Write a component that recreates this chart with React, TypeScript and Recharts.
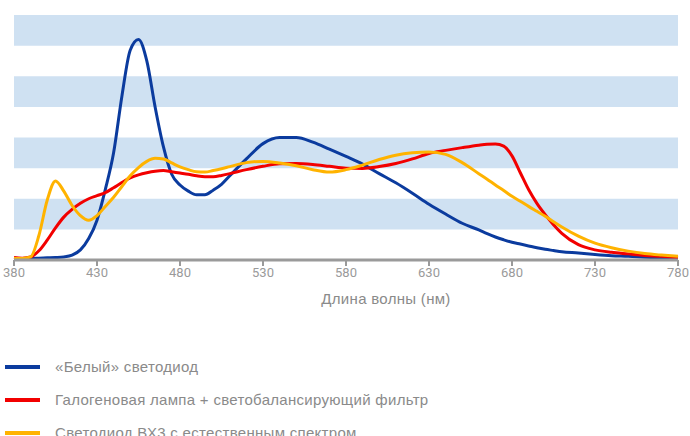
import React from "react";
import { LineChart, Line, XAxis, YAxis, ReferenceArea } from "recharts";

const wavelengths = [380, 385, 390, 395, 400, 405, 410, 415, 420, 425, 430, 435, 440, 445, 450, 455, 460, 465, 470, 475, 480, 485, 490, 495, 500, 505, 510, 520, 530, 540, 550, 560, 570, 580, 590, 600, 610, 620, 630, 640, 650, 660, 665, 670, 675, 680, 685, 690, 695, 700, 705, 710, 720, 730, 740, 750, 760, 770, 780];

const whiteLed = [0.05, 0.05, 0.05, 0.06, 0.07, 0.08, 0.1, 0.16, 0.33, 0.7, 1.3, 2.3, 3.5, 5.35, 6.85, 7.2, 6.5, 5.0, 3.7, 2.8, 2.45, 2.25, 2.13, 2.13, 2.28, 2.47, 2.75, 3.3, 3.8, 4.0, 4.0, 3.85, 3.62, 3.38, 3.13, 2.82, 2.52, 2.18, 1.82, 1.5, 1.2, 0.98, 0.86, 0.75, 0.66, 0.58, 0.52, 0.46, 0.4, 0.35, 0.31, 0.27, 0.23, 0.18, 0.14, 0.12, 0.09, 0.07, 0.05];

const halogen = [0.08, 0.06, 0.1, 0.3, 0.65, 1.05, 1.4, 1.65, 1.85, 2.0, 2.1, 2.2, 2.36, 2.53, 2.68, 2.78, 2.85, 2.9, 2.92, 2.88, 2.84, 2.8, 2.75, 2.72, 2.72, 2.76, 2.82, 2.95, 3.06, 3.14, 3.15, 3.12, 3.06, 3.0, 2.99, 3.05, 3.15, 3.3, 3.48, 3.58, 3.67, 3.75, 3.78, 3.79, 3.72, 3.4, 2.85, 2.3, 1.85, 1.48, 1.15, 0.87, 0.5, 0.33, 0.25, 0.2, 0.15, 0.12, 0.08];

const bx3 = [0.05, 0.05, 0.1, 0.8, 1.95, 2.58, 2.25, 1.78, 1.45, 1.3, 1.45, 1.75, 2.05, 2.4, 2.75, 3.02, 3.22, 3.32, 3.3, 3.17, 3.04, 2.95, 2.88, 2.87, 2.92, 2.98, 3.05, 3.18, 3.22, 3.17, 3.08, 2.95, 2.87, 2.95, 3.1, 3.28, 3.42, 3.5, 3.53, 3.45, 3.18, 2.82, 2.64, 2.45, 2.27, 2.08, 1.92, 1.75, 1.59, 1.43, 1.25, 1.08, 0.78, 0.55, 0.4, 0.29, 0.21, 0.16, 0.12];

const xTicks = [380, 430, 480, 530, 580, 630, 680, 730, 780];
const bands: [number, number][] = [[1, 2], [3, 4], [5, 6], [7, 8]];

const seriesNames: Record<string, string> = {
  white: "«Белый» светодиод",
  halogen: "Галогеновая лампа + светобалансирующий фильтр",
  bx3: "Светодиод ВХ3 с естественным спектром",
};
const xTitle = "Длина волны (нм)";

const data = wavelengths.map((w, i) => ({
  w,
  white: whiteLed[i],
  halogen: halogen[i],
  bx3: bx3[i],
}));

const series = [
  { key: "white", color: "#0b3b9e" },
  { key: "halogen", color: "#f20000" },
  { key: "bx3", color: "#ffb300" },
];

const FONT = "Roboto, 'Liberation Sans', Arial, sans-serif";
const TEXT_FONT = "'Liberation Sans', Arial, sans-serif";

export default function App() {
  return (
    <div style={{ position: "absolute", left: 0, top: 0, width: 690, height: 436, overflow: "hidden", background: "#fff", fontFamily: FONT }}>
      <LineChart width={690} height={436} data={data} margin={{ top: 15, right: 12, left: 14, bottom: 146 }} style={{ overflow: "visible" }}>
        {bands.map(([a, b]) => (
          <ReferenceArea key={a} x1={380} x2={780} y1={a} y2={b} fill="#cfe1f2" fillOpacity={1} stroke="none" ifOverflow="hidden" />
        ))}
        <XAxis
          dataKey="w"
          type="number"
          domain={[380, 780]}
          ticks={xTicks}
          height={30}
          axisLine={{ stroke: "#9a9a9a", strokeWidth: 3 }}
          tickLine={{ stroke: "#9a9a9a", strokeWidth: 2 }}
          tickSize={6}
          tick={{ fill: "#9a9a9a", fontSize: 13, fontFamily: FONT }}
          interval={0}
        />
        <YAxis
          type="number"
          domain={[0, 8]}
          width={0}
          tick={false}
          tickLine={false}
          axisLine={{ stroke: "#9a9a9a", strokeWidth: 3 }}
        />
        {series.map((s) => (
          <Line
            key={s.key}
            dataKey={s.key}
            type="monotone"
            stroke={s.color}
            strokeWidth={3}
            dot={false}
            isAnimationActive={false}
          />
        ))}
      </LineChart>
      <div style={{ position: "absolute", left: 0, width: 772, top: 290, textAlign: "center", fontSize: 15, letterSpacing: 0.3, color: "#8a8a8a", fontFamily: TEXT_FONT }}>
        {xTitle}
      </div>
      <div style={{ position: "absolute", left: 0, top: 350 }}>
        {series.map((s) => (
          <div key={s.key} style={{ display: "flex", alignItems: "center", height: 33 }}>
            <div style={{ width: 35, height: 4, background: s.color, marginLeft: 5, marginRight: 15 }} />
            <span style={{ fontSize: 15, letterSpacing: 0.3, color: "#8a8a8a", whiteSpace: "nowrap", fontFamily: TEXT_FONT }}>{seriesNames[s.key]}</span>
          </div>
        ))}
      </div>
    </div>
  );
}
